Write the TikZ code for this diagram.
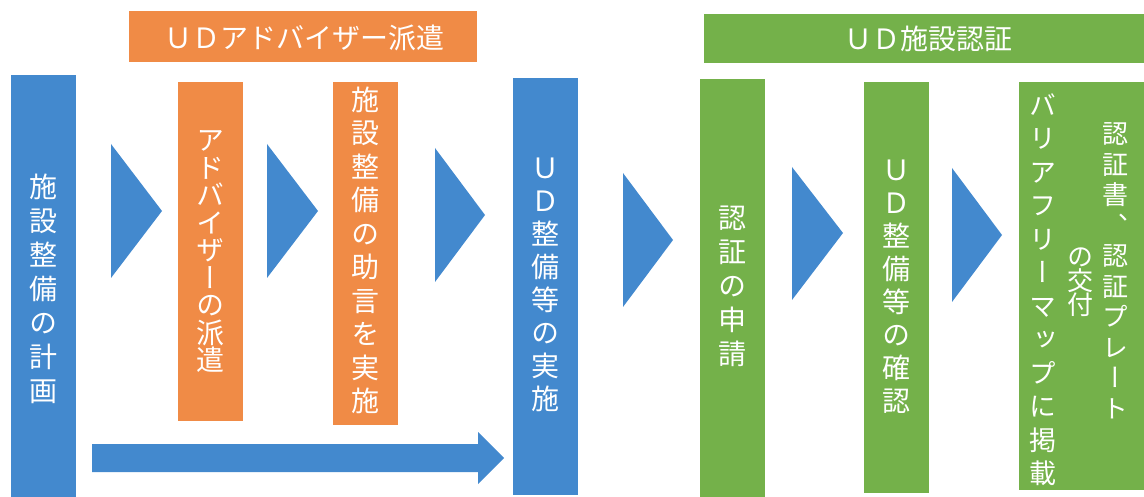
\documentclass[tikz,border=0pt]{standalone}
\usepackage{fontspec}
\newfontfamily\jp{Noto Sans CJK JP}
\newfontfamily\jpv[RawFeature=+vert]{Noto Sans CJK JP}
\definecolor{ublue}{HTML}{4389CE}
\definecolor{uorange}{HTML}{F08B46}
\definecolor{ugreen}{HTML}{74B14A}
\newcommand\vfnt[2]{\jpv\fontsize{#1pt}{#2pt}\selectfont\setlength{\lineskiplimit}{-100pt}}
\tikzset{
  box/.style={draw=none, inner sep=0pt, outer sep=0pt},
  vtxt/.style={text=white, inner sep=0pt, align=center},
  ttl/.style={text=white, inner sep=0pt, font=\jp\fontsize{28pt}{30pt}\selectfont},
  tri/.style={fill=ublue, draw=none},
}
\begin{document}
\begin{tikzpicture}[x=1pt, y=-1pt]
\useasboundingbox (0,0) rectangle (1144,497);
% headers
\node[box, fill=uorange, minimum width=348pt, minimum height=51pt] (h1) at (303,36.5) {};
\node[ttl] (h1t) at (304,37.5) {ＵＤアドバイザー派遣};
\node[box, fill=ugreen, minimum width=440pt, minimum height=49pt] (h2) at (924,38.5) {};
\node[ttl] (h2t) at (928,39) {ＵＤ施設認証};
% boxes
\node[box, fill=ublue, minimum width=65pt, minimum height=422pt] (b1) at (43.5,286) {};
\node[box, fill=uorange, minimum width=65pt, minimum height=339pt] (b2) at (210.5,251.5) {};
\node[box, fill=uorange, minimum width=65pt, minimum height=343pt] (b3) at (365.5,253.5) {};
\node[box, fill=ublue, minimum width=65pt, minimum height=417pt] (b4) at (545.5,286.5) {};
\node[box, fill=ugreen, minimum width=65pt, minimum height=418pt] (b5) at (732.5,288) {};
\node[box, fill=ugreen, minimum width=65pt, minimum height=411pt] (b6) at (896.5,287.5) {};
\node[box, fill=ugreen, minimum width=125pt, minimum height=408pt] (b7) at (1081.5,286) {};
% texts
\node[vtxt, font=\vfnt{28}{34}] (v1) at (43.5,288.5) {施\\設\\整\\備\\の\\計\\画};
\node[vtxt, font=\vfnt{28}{27.5}] (v2) at (210.5,251.5) {ア\\ド\\バ\\イ\\ザ\\ー\\の\\派\\遣};
\node[vtxt, font=\vfnt{28}{33.5}] (v3) at (365.5,250.5) {施\\設\\整\\備\\の\\助\\言\\を\\実\\施};
\node[vtxt, font=\vfnt{28}{33}] (v4) at (545.5,285) {Ｕ\\Ｄ\\整\\備\\等\\の\\実\\施};
\node[vtxt, font=\vfnt{28}{34}] (v5) at (732.5,286) {認\\証\\の\\申\\請};
\node[vtxt, font=\vfnt{28}{33}] (v6) at (896.5,287) {Ｕ\\Ｄ\\整\\備\\等\\の\\確\\認};
\node[vtxt, font=\vfnt{26}{30.5}] (v7a) at (1115,271) {認\\証\\書\\、\\認\\証\\プ\\レ\\ー\\ト};
\node[vtxt, font=\vfnt{26}{24}] (v7b) at (1080,282) {の\\交\\付};
\node[vtxt, font=\vfnt{27}{33.5}] (v7c) at (1043,289.5) {バ\\リ\\ア\\フ\\リ\\ー\\マ\\ッ\\プ\\に\\掲\\載};
% triangles
\fill[tri] (111,144) -- (162,211) -- (111,278) -- cycle;
\fill[tri] (267,144) -- (318,211) -- (267,278) -- cycle;
\fill[tri] (435,148) -- (485,215) -- (435,282) -- cycle;
\fill[tri] (623,173) -- (673,240) -- (623,307) -- cycle;
\fill[tri] (792,167) -- (843,233) -- (792,300) -- cycle;
\fill[tri] (952,168) -- (1002,235) -- (952,302) -- cycle;
% big arrow
\fill[tri] (92,444) -- (478,444) -- (478,432) -- (504,458) -- (478,484) -- (478,472) -- (92,472) -- cycle;
\end{tikzpicture}
\end{document}
